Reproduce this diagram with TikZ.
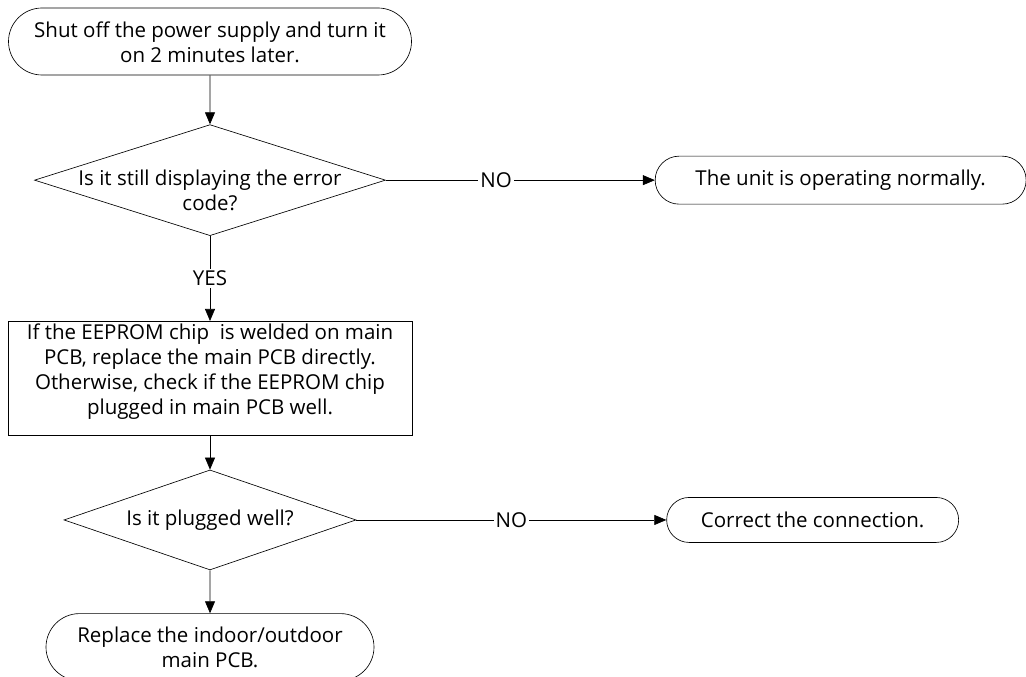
\documentclass[tikz,border=0pt]{standalone}
\usepackage{fontspec}
\setmainfont{Open Sans}
\usetikzlibrary{positioning, arrows.meta, shapes.geometric, shapes.misc}

\begin{document}
\begin{tikzpicture}[
    x=1pt, y=-1pt,
    font=\fontsize{20.5}{25}\selectfont,
    every path/.style={line width=0.65pt},
    term/.style={draw, rounded rectangle, minimum height=67pt, inner sep=0pt, align=center},
    decide/.style={draw, diamond, inner xsep=-100pt, inner ysep=-40pt, align=center},
    proc/.style={draw, rectangle, minimum width=404pt, minimum height=114pt, inner sep=0pt, align=center},
    arr/.style={-{Triangle[length=12pt, width=10pt]}},
    lbl/.style={fill=white, inner sep=2pt}
]
    \useasboundingbox (0,0) rectangle (1026,677);
    \node[term, minimum width=403pt, text height=43pt, text depth=0pt] (start) at (210,41.5) {Shut off the power supply and turn it\\on 2 minutes later.};
    \node[decide, minimum width=351pt, minimum height=111pt, text height=60pt, text depth=0pt] (chk) [below=49pt of start] {Is it still displaying the error\\code?};
    \node[term, minimum width=371pt, minimum height=48pt] (ok) [right=269pt of chk] {The unit is operating normally.};
    \node[proc, text height=72pt, text depth=0pt] (eeprom) [below=85pt of chk] {If the EEPROM chip\ \ is welded on main\\PCB, replace the main PCB directly.\\Otherwise, check if the EEPROM chip\\plugged in main PCB well.};
    \node[decide, minimum width=292pt, minimum height=100pt] (plug) [below=34pt of eeprom] {Is it plugged well?};
    \node[term, minimum width=292pt, minimum height=45pt] (fix) [right=310pt of plug] {Correct the connection.};
    \node[term, minimum width=328pt] (repl) [below=43pt of plug] {Replace the indoor/outdoor\\main PCB.};

    \draw[arr] (start) -- (chk);
    \draw[arr] (chk) -- node[lbl, pos=0.41] {NO} (ok);
    \draw[arr] (chk) -- node[lbl] {YES} (eeprom);
    \draw[arr] (eeprom) -- (plug);
    \draw[arr] (plug) -- node[lbl] {NO} (fix);
    \draw[arr] (plug) -- (repl);
\end{tikzpicture}
\end{document}
